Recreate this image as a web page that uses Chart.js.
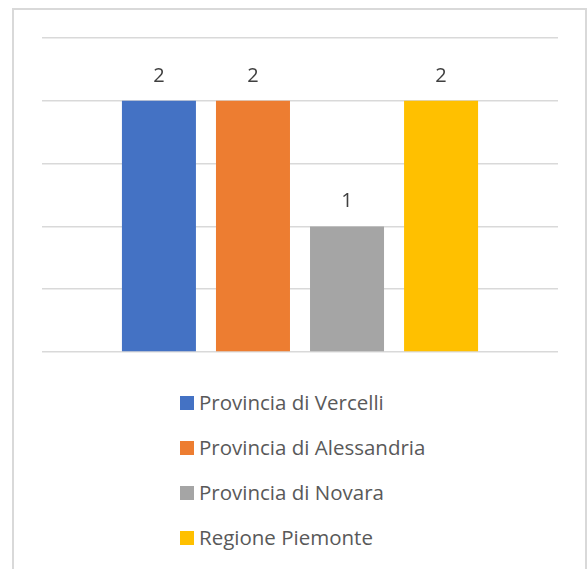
<!DOCTYPE html>
<html>
<head>
    <title>Grafico</title>
    <script src="https://cdn.jsdelivr.net/npm/chart.js"></script>
    <style>
        body { margin: 0; background: #fff; }
        #wrap { position: relative; width: 587px; height: 569px; overflow: hidden; background: #fff; }
        #frame { position: absolute; left: 12px; top: 8px; width: 571px; height: 600px; border: 2px solid #d9d9d9; }
        #grafico { position: absolute; left: 0; top: 0; }
        #legenda { position: absolute; left: 180px; top: 391px; font-family: "Open Sans", sans-serif; font-size: 20.5px; line-height: 22px; color: #595959; }
        .voce { height: 45px; white-space: nowrap; }
        .voce span.box { display: inline-block; width: 14px; height: 14px; margin-right: 5px; vertical-align: top; margin-top: 5px; }
    </style>
</head>
<body>
<div id="wrap">
    <div id="frame"></div>
    <canvas id="grafico" width="587" height="380"></canvas>
    <div id="legenda"></div>
</div>

<script>
    // dati
    const categorie = ['Provincia di Vercelli', 'Provincia di Alessandria', 'Provincia di Novara', 'Regione Piemonte'];
    const valori = [2, 2, 1, 2];
    const colori = ['#4472c4', '#ed7d31', '#a5a5a5', '#ffc000'];

    const datasets = categorie.map((nome, i) => ({
        label: nome,
        data: [valori[i]],
        backgroundColor: colori[i],
        categoryPercentage: 0.729,
        barPercentage: 0.787
    }));

    // etichette sopra le barre
    const etichette = {
        id: 'etichette',
        afterDatasetsDraw(chart) {
            const ctx = chart.ctx;
            ctx.save();
            ctx.font = '20px "Open Sans", sans-serif';
            ctx.fillStyle = '#404040';
            ctx.textAlign = 'center';
            ctx.textBaseline = 'middle';
            chart.data.datasets.forEach((ds, i) => {
                chart.getDatasetMeta(i).data.forEach((bar, j) => {
                    ctx.fillText(ds.data[j], bar.x, bar.y - 25);
                });
            });
            ctx.restore();
        }
    };

    var ctx = document.getElementById('grafico').getContext('2d');
    var grafico = new Chart(ctx, {
        type: 'bar',
        data: { labels: [''], datasets: datasets },
        options: {
            responsive: false,
            animation: false,
            layout: { padding: { left: 42, right: 29, top: 38, bottom: 28 } },
            plugins: { legend: { display: false }, tooltip: { enabled: false } },
            scales: {
                x: { display: false },
                y: {
                    min: 0, max: 2.5,
                    ticks: { display: false, stepSize: 0.5 },
                    border: { display: false },
                    grid: { color: '#d9d9d9', lineWidth: 1.5, drawTicks: false }
                }
            }
        },
        plugins: [etichette]
    });

    // legenda verticale
    const legenda = document.getElementById('legenda');
    categorie.forEach((nome, i) => {
        const riga = document.createElement('div');
        riga.className = 'voce';
        const box = document.createElement('span');
        box.className = 'box';
        box.style.background = colori[i];
        riga.appendChild(box);
        riga.appendChild(document.createTextNode(nome));
        legenda.appendChild(riga);
    });
</script>
</body>
</html>
